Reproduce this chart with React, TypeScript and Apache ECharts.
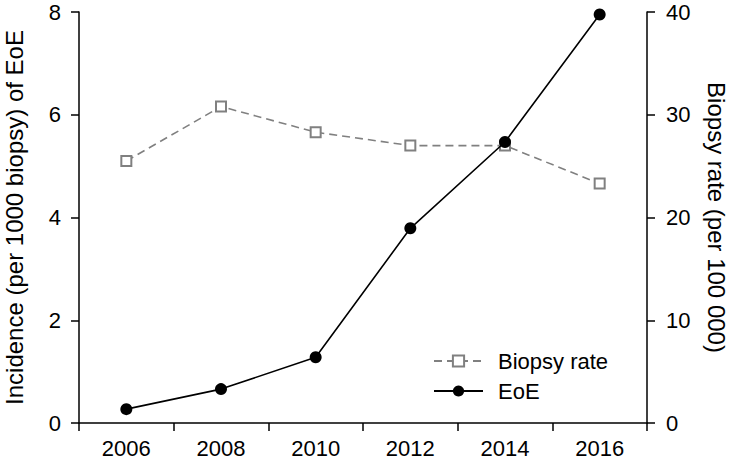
import React, { useEffect, useRef } from "react";
import * as echarts from "echarts";

const years = ["2006", "2008", "2010", "2012", "2014", "2016"];
const eoeIncidence = [0.27, 0.66, 1.28, 3.79, 5.47, 7.95];
const biopsyRate = [25.5, 30.8, 28.3, 27.0, 27.0, 23.3];
const FONT = "'Liberation Sans', Arial, sans-serif";

export default function App() {
  const ref = useRef<HTMLDivElement>(null);
  useEffect(() => {
    if (!ref.current) return;
    const chart = echarts.init(ref.current, null, { renderer: "svg" });
    const axisCommon = {
      axisLine: { show: true, lineStyle: { color: "#000", width: 1.5 } },
      axisTick: { show: true, inside: false, length: 8, lineStyle: { color: "#000", width: 1.5 } },
      splitLine: { show: false },
    };
    chart.setOption({
      animation: false,
      backgroundColor: "#fff",
      textStyle: { fontFamily: FONT },
      grid: { left: 79, right: 84, top: 12, bottom: 39, containLabel: false, outerBoundsMode: "none" },
      legend: {
        orient: "vertical",
        left: 433,
        top: 350,
        padding: 0,
        itemWidth: 49,
        itemHeight: 14,
        itemGap: 8,
        textStyle: { fontSize: 22, color: "#000", fontFamily: FONT, padding: [0, 0, 0, 10] },
        data: ["Biopsy rate", "EoE"],
      },
      xAxis: {
        type: "category",
        data: years,
        boundaryGap: true,
        ...axisCommon,
        axisLabel: { fontSize: 22, color: "#000", margin: 14, fontFamily: FONT },
      },
      yAxis: [
        {
          type: "value",
          min: 0,
          max: 8,
          interval: 2,
          position: "left",
          name: "Incidence (per 1000 biopsy) of EoE",
          nameLocation: "middle",
          nameGap: 53,
          nameRotate: 90,
          nameTextStyle: { fontSize: 24, color: "#000", fontFamily: FONT },
          ...axisCommon,
          axisLabel: { fontSize: 22, color: "#000", margin: 18, fontFamily: FONT },
        },
        {
          type: "value",
          min: 0,
          max: 40,
          interval: 10,
          position: "right",
          name: "Biopsy rate (per 100 000)",
          nameLocation: "middle",
          nameGap: 57,
          nameRotate: -90,
          nameTextStyle: { fontSize: 24, color: "#000", fontFamily: FONT },
          ...axisCommon,
          axisLabel: { fontSize: 22, color: "#000", margin: 19, fontFamily: FONT },
        },
      ],
      series: [
        {
          name: "Biopsy rate",
          type: "line",
          yAxisIndex: 1,
          data: biopsyRate,
          symbol: "emptyRect",
          symbolSize: 10,
          lineStyle: { color: "#808080", width: 1.6, type: [8, 5] },
          itemStyle: { color: "#808080", borderColor: "#808080", borderWidth: 1.8 },
          z: 2,
        },
        {
          name: "EoE",
          type: "line",
          yAxisIndex: 0,
          data: eoeIncidence,
          symbol: "circle",
          symbolSize: 12,
          lineStyle: { color: "#000", width: 1.6 },
          itemStyle: { color: "#000" },
          z: 3,
        },
      ],
    });
    return () => chart.dispose();
  }, []);
  return <div ref={ref} style={{ width: 731, height: 462, position: "absolute", left: 0, top: 0 }} />;
}
